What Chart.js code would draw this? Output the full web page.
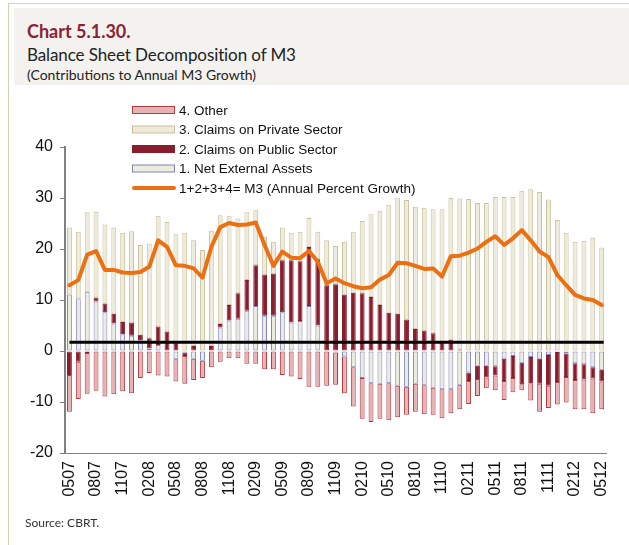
<!DOCTYPE html>
<html>
<head>
<meta charset="utf-8">
<script src="https://cdn.jsdelivr.net/npm/chart.js@4.4.0/dist/chart.umd.min.js"></script>
<style>
  html, body { margin: 0; padding: 0; background: #fff; }
  #wrap { position: relative; width: 629px; height: 545px; overflow: hidden; font-family: "Lato", "Open Sans", sans-serif; }
  #frame { position: absolute; left: 8px; top: 3px; width: 700px; height: 700px; border-left: 1px solid #d9d0ad; border-top: 1px solid #d9d0ad; }
  #head { position: absolute; left: 14px; top: 8px; width: 640px; height: 77px; background: #f3f2ee; }
  .txt { position: absolute; left: 27px; white-space: nowrap; line-height: 1; }
  #t1 { top: 22px; font-size: 18px; font-weight: bold; color: #8c2233; }
  #t2 { top: 46px; font-size: 17px; color: #222; letter-spacing: -0.1px; }
  #t3 { top: 68px; font-size: 14px; color: #222; }
  #src { top: 517px; left: 25px; font-size: 12px; color: #333; }
  canvas { position: absolute; left: 0; top: 0; }
</style>
</head>
<body>
<div id="wrap">
  <div id="frame"></div>
  <div id="head"></div>
  <div class="txt" id="t1">Chart 5.1.30.</div>
  <div class="txt" id="t2">Balance Sheet Decomposition of M3</div>
  <div class="txt" id="t3">(Contributions to Annual M3 Growth)</div>
  <canvas id="c" width="629" height="545"></canvas>
  <div class="txt" id="src">Source: CBRT.</div>
</div>
<script>
// months, MMYY
const months = [
  '0507','0607','0707','0807','0907','1007','1107','1207',
  '0108','0208','0308','0408','0508','0608','0708','0808','0908','1008','1108','1208',
  '0109','0209','0309','0409','0509','0609','0709','0809','0909','1009','1109','1209',
  '0110','0210','0310','0410','0510','0610','0710','0810','0910','1010','1110','1210',
  '0111','0211','0311','0411','0511','0611','0711','0811','0911','1011','1111','1211',
  '0112','0212','0312','0412','0512'
];

const netExternal = [11.1, 10.3, 11.6, 9.7, 7.6, 5.4, 3.3, 3.0, 2.1,
  0.5, 1.2, 0, -1.6, -0.3, -1.5, -1.9, 0, 4.6, 6.0, 6.3,
  7.9, 8.8, 6.9, 6.9, 7.6, 5.6, 5.9, 8.8, 5.0, 0,
  -0.3, -1.1, -3.2, -5.3, -6.3, -6.4, -6.3, -6.8, -7.0, -6.4,
  -6.7, -7.2, -7.5, -7.5, -6.6, -4.2, -2.9, -2.9, -3.0, -1.5,
  -1.0, -2.3, -1.2, -1.5, -0.8, -0.2, -0.5, -2.4, -2.6, -3.2, -3.7];

const publicClaims = [-4.7, -2.1, -0.4, 0.8, 1.7, 1.9, 2.4, 2.6, 1.1,
  2.0, 3.6, 3.8, 1.7, -0.7, 1.0, 0, 1.0, 0.7, 3.0, 5.0,
  6.0, 8.0, 8.1, 8.3, 10.2, 12.2, 11.7, 11.6, 13.0, 12.9,
  13.1, 11.1, 11.4, 11.3, 10.6, 9.0, 7.5, 7.3, 6.2, 4.3,
  4.0, 3.5, 1.8, 2.2, 0.3, -1.7, -2.6, -2.3, -1.8, -4.4,
  -4.3, -4.2, -5.1, -4.9, -6.0, -5.9, -4.6, -3.3, -3.0, -2.2, -2.3];

const privateClaims = [13.1, 13.1, 15.6, 16.8, 15.5, 16.9, 17.5, 17.9, 17.6,
  18.6, 21.7, 21.5, 21.2, 23.2, 20.7, 19.8, 22.6, 21.3, 17.5, 14.7,
  13.3, 10.8, 7.4, 6.2, 6.4, 5.4, 5.8, 5.7, 5.4, 8.8,
  7.5, 10.3, 12.0, 14.2, 16.2, 18.5, 21.2, 22.8, 23.4, 24.0,
  24.1, 24.3, 26.0, 27.8, 29.6, 29.8, 29.0, 29.0, 30.2, 30.2,
  30.2, 31.4, 31.7, 31.2, 29.7, 25.7, 23.2, 21.4, 21.6, 22.2, 20.3];

const other = [-7.2, -7.3, -8.0, -7.8, -8.9, -8.5, -7.9, -8.3, -5.3,
  -4.3, -4.8, -5.0, -4.4, -5.4, -4.2, -3.4, -3.2, -2.1, -1.4, -1.4,
  -2.5, -2.5, -3.6, -3.6, -4.7, -5.0, -5.5, -7.0, -7.0, -6.8,
  -6.3, -7.2, -7.7, -8.0, -7.6, -6.9, -7.3, -6.2, -5.5, -5.5,
  -5.7, -5.3, -5.7, -4.7, -4.8, -4.5, -3.3, -2.1, -2.9, -3.7,
  -2.8, -1.2, -3.4, -5.5, -4.4, -4.4, -5.0, -5.7, -5.8, -6.8, -5.4];

const m3Growth = [12.9, 13.9, 18.9, 19.6, 15.9, 15.9, 15.4, 15.3, 15.5,
  16.5, 21.7, 20.4, 16.8, 16.7, 16.2, 14.4, 20.4, 24.3, 25.1, 24.7,
  24.8, 25.2, 20.8, 16.7, 19.5, 18.3, 18.2, 19.6, 17.5, 13.3,
  14.2, 13.3, 12.7, 12.3, 12.5, 14.0, 14.9, 17.3, 17.2, 16.7,
  16.1, 16.2, 14.6, 18.6, 18.7, 19.3, 20.1, 21.4, 22.5, 20.8,
  22.1, 23.7, 21.7, 19.5, 18.4, 14.9, 12.9, 11.0, 10.3, 10.0, 9.0];

const baseLevel = 1.7;

const tickFont = { family: '"Liberation Sans", Arial, sans-serif', size: 16 };

// black horizontal line across the categories
const baseLinePlugin = {
  id: 'baseLine',
  afterDatasetsDraw(chart) {
    const x = chart.scales.x, y = chart.scales.y, ctx = chart.ctx;
    const py = y.getPixelForValue(baseLevel);
    ctx.save();
    ctx.strokeStyle = '#000';
    ctx.lineWidth = 3;
    ctx.beginPath();
    ctx.moveTo(x.getPixelForValue(0), py);
    ctx.lineTo(x.getPixelForValue(months.length - 1) + 2, py);
    ctx.stroke();
    ctx.restore();
  }
};

// legend stacked in rows, drawn over the top of the plot
const rowLegend = {
  id: 'rowLegend',
  afterDraw(chart) {
    const ctx = chart.ctx;
    const order = [3, 2, 1, 0, 4];
    ctx.save();
    ctx.font = '13.5px "Liberation Sans", Arial, sans-serif';
    ctx.textBaseline = 'middle';
    order.forEach((di, row) => {
      const ds = chart.data.datasets[di];
      const y = 110 + row * 19.5;
      if (ds.type === 'line') {
        ctx.strokeStyle = ds.borderColor;
        ctx.lineWidth = 4;
        ctx.lineCap = 'round';
        ctx.beginPath();
        ctx.moveTo(134, y);
        ctx.lineTo(174, y);
        ctx.stroke();
      } else {
        ctx.fillStyle = ds.backgroundColor;
        ctx.fillRect(132.5, y - 3.5, 42, 7);
        ctx.strokeStyle = ds.borderColor;
        ctx.lineWidth = 1;
        ctx.strokeRect(132.5, y - 3.5, 42, 7);
      }
      ctx.fillStyle = '#111';
      ctx.fillText(ds.label, 179, y + 1);
    });
    ctx.restore();
  }
};

let ctx = document.getElementById('c').getContext('2d');
let chart = new Chart(ctx, {
  type: 'bar',
  data: {
    labels: months,
    datasets: [
      { label: '1. Net External Assets', data: netExternal, backgroundColor: '#ebecdc', borderColor: '#7f82c2', stack: 'm3', order: 2 },
      { label: '2. Claims on Public Sector', data: publicClaims, backgroundColor: '#8a1d2d', borderColor: '#8a1d2d', stack: 'm3', order: 2 },
      { label: '3. Claims on Private Sector', data: privateClaims, backgroundColor: '#eeebdc', borderColor: '#c9c199', stack: 'm3', order: 2 },
      { label: '4. Other', data: other, backgroundColor: '#e6b2b4', borderColor: '#b23a41', stack: 'm3', order: 2 },
      { type: 'line', label: '1+2+3+4= M3 (Annual Percent Growth)', data: m3Growth, borderColor: '#ec6f12',
        borderWidth: 4, pointRadius: 0, tension: 0, borderJoinStyle: 'round', borderCapStyle: 'round', stack: 'line', order: 1 }
    ]
  },
  options: {
    responsive: false,
    animation: false,
    devicePixelRatio: 1,
    layout: { padding: { left: 20, right: 15, top: 147, bottom: 22 } },
    plugins: { legend: { display: false }, tooltip: { enabled: false } },
    datasets: { bar: { categoryPercentage: 1, barPercentage: 0.55, borderWidth: 1, borderSkipped: false } },
    scales: {
      x: {
        stacked: true,
        grid: { display: false, drawTicks: false },
        border: { display: true, color: '#808080', width: 1 },
        ticks: {
          autoSkip: false, maxRotation: 90, minRotation: 90, padding: 8,
          font: tickFont, color: '#111',
          callback: (v, i) => i % 3 === 0 ? months[i] : ''
        },
        afterFit: s => { s.height = 70; }
      },
      y: {
        stacked: true,
        min: -20, max: 40,
        ticks: { stepSize: 10, padding: 7, font: tickFont, color: '#111' },
        grid: { drawOnChartArea: false, tickLength: 5, color: '#808080' },
        border: { color: '#808080', width: 2 },
        afterFit: s => { s.width = 45; }
      }
    }
  },
  plugins: [baseLinePlugin, rowLegend]
});
</script>
</body>
</html>
